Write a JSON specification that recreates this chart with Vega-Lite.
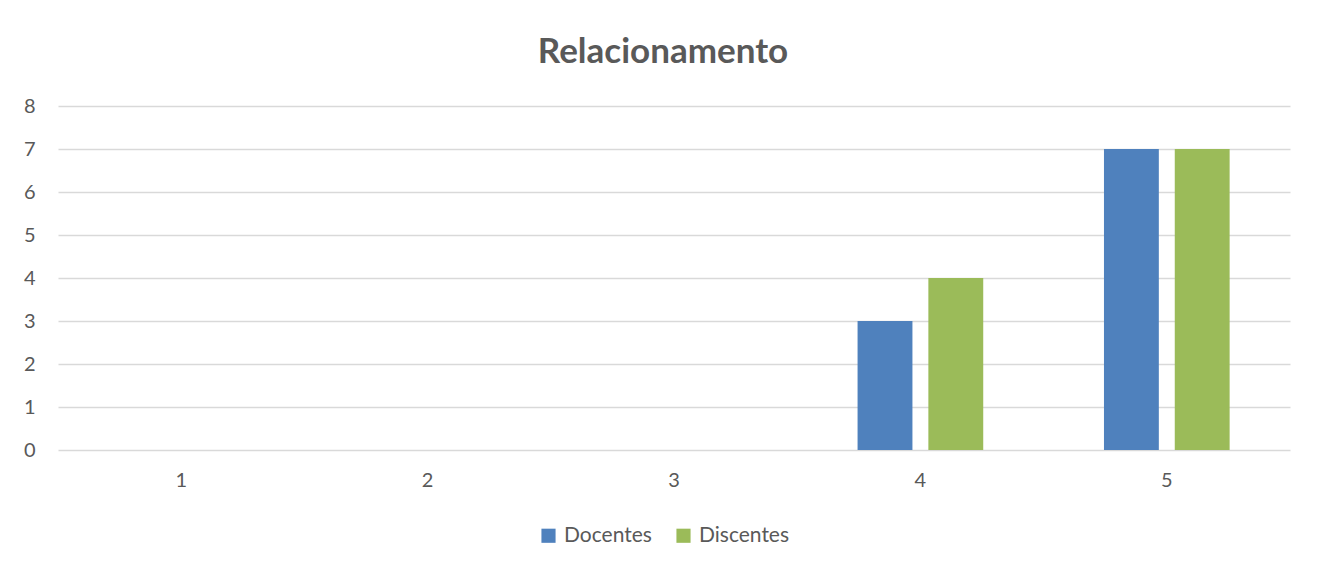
{
  "$schema": "https://vega.github.io/schema/vega-lite/v6.json",
  "autosize": "none",
  "width": 1232,
  "height": 344,
  "padding": {"left": 58, "top": 106, "right": 34, "bottom": 120},
  "background": "white",
  "title": {
    "text": "Relacionamento",
    "font": "Lato",
    "fontSize": 35,
    "fontWeight": "bold",
    "color": "#595959",
    "anchor": "middle",
    "dx": -11,
    "offset": 26
  },
  "data": {
    "values": [
      {"cat": "1", "serie": "Docentes", "valor": 0},
      {"cat": "1", "serie": "Discentes", "valor": 0},
      {"cat": "2", "serie": "Docentes", "valor": 0},
      {"cat": "2", "serie": "Discentes", "valor": 0},
      {"cat": "3", "serie": "Docentes", "valor": 0},
      {"cat": "3", "serie": "Discentes", "valor": 0},
      {"cat": "4", "serie": "Docentes", "valor": 3},
      {"cat": "4", "serie": "Discentes", "valor": 4},
      {"cat": "5", "serie": "Docentes", "valor": 7},
      {"cat": "5", "serie": "Discentes", "valor": 7}
    ]
  },
  "mark": {"type": "bar"},
  "encoding": {
    "x": {
      "field": "cat",
      "type": "nominal",
      "scale": {"paddingInner": 0.49, "paddingOuter": 0.245},
      "axis": {
        "title": null,
        "labelAngle": 0,
        "ticks": false,
        "domain": false,
        "labelFont": "Lato",
        "labelFontSize": 20,
        "labelColor": "#595959",
        "labelPadding": 20
      }
    },
    "xOffset": {
      "field": "serie",
      "sort": ["Docentes", "Discentes"],
      "scale": {"paddingInner": 0.225, "paddingOuter": 0}
    },
    "y": {
      "field": "valor",
      "type": "quantitative",
      "scale": {"domain": [0, 8]},
      "axis": {
        "title": null,
        "values": [0, 1, 2, 3, 4, 5, 6, 7, 8],
        "labelOverlap": false,
        "ticks": false,
        "domain": false,
        "gridColor": "#D9D9D9",
        "gridWidth": 1.5,
        "labelFont": "Lato",
        "labelFontSize": 20,
        "labelColor": "#595959",
        "labelPadding": 23
      }
    },
    "color": {
      "field": "serie",
      "type": "nominal",
      "sort": ["Docentes", "Discentes"],
      "scale": {"domain": ["Docentes", "Discentes"], "range": ["#4F81BD", "#9BBB59"]},
      "legend": {
        "orient": "none",
        "legendX": 480,
        "legendY": 419,
        "direction": "horizontal",
        "title": null,
        "symbolType": "square",
        "symbolSize": 200,
        "symbolStrokeWidth": 0,
        "labelFont": "Lato",
        "labelFontSize": 21,
        "labelColor": "#595959",
        "columnPadding": 21,
        "labelOffset": 5
      }
    }
  },
  "config": {
    "view": {"stroke": null},
    "axis": {"gridColor": "#D9D9D9"}
  }
}
